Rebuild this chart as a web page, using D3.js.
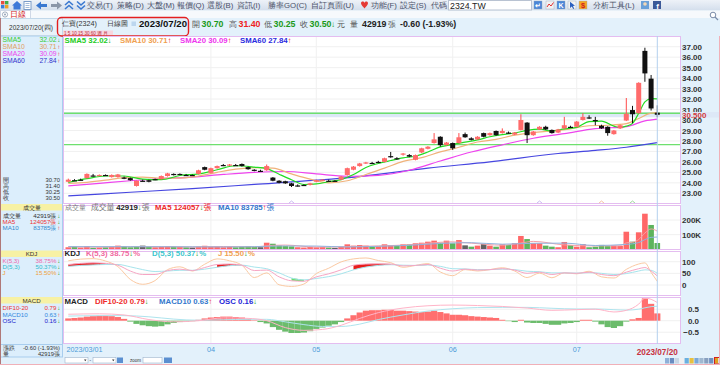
<!DOCTYPE html>
<html>
<head>
<meta charset="utf-8">
<script src="https://cdn.jsdelivr.net/npm/d3@7"></script>
<style>
  html, body { margin: 0; padding: 0; background: #fff; }
  svg { display: block; }
  text { font-family: "Liberation Sans", Arial, sans-serif; }
</style>
</head>
<body>
<svg width="720" height="365"></svg>
<script>
// ---- trading days (2023) ----
const marDays = [1,2,3,6,7,8,9,10,13,14,15,16,17,20,21,22,23,24,27,28,29,30,31];
const aprDays = [6,7,10,11,12,13,14,17,18,19,20,21,24,25,26,27,28];
const mayDays = [2,3,4,5,8,9,10,11,12,15,16,17,18,19,22,23,24,25,26,29,30,31];
const junDays = [1,2,5,6,7,8,9,12,13,14,15,16,19,20,21,26,27,28,29,30];
const julDays = [3,4,5,6,7,10,11,12,13,14,17,18,19,20];

const monthTicks  = ['2023/03/01', '2023/04/06', '2023/05/02', '2023/06/01', '2023/07/03'];
const monthLabels = ['2023/03/01', '04', '05', '06', '07'];

// ---- price: [open, high, low, close] ----
const candles = [
  [24.10,24.40,24.05,24.30],[24.25,24.35,24.20,24.25],[24.30,24.40,24.25,24.30],[24.45,24.90,24.40,24.85],
  [24.70,24.85,24.60,24.65],[24.70,24.80,24.65,24.75],[24.75,24.80,24.65,24.70],[24.55,24.80,24.50,24.75],
  [24.55,24.85,24.50,24.80],[24.50,24.60,24.35,24.40],[24.45,24.50,24.20,24.25],[23.70,24.20,23.65,24.20],
  [24.20,24.30,24.15,24.20],[24.25,24.30,24.05,24.10],[24.35,24.40,24.25,24.35],[24.35,24.70,24.30,24.65],
  [24.65,24.95,24.60,24.90],[24.85,24.90,24.70,24.75],[24.85,24.90,24.75,24.80],[24.75,24.85,24.70,24.75],
  [24.75,24.80,24.70,24.75],[24.85,25.25,24.80,25.20],[25.50,25.55,25.20,25.25],[24.95,25.45,24.90,25.40],
  [25.40,25.65,25.35,25.60],[25.70,25.80,25.60,25.70],[25.65,25.80,25.60,25.75],[25.70,25.80,25.65,25.70],
  [25.80,25.85,25.55,25.60],[25.50,25.55,25.25,25.30],[25.25,25.30,25.10,25.15],[25.15,25.25,25.10,25.15],
  [25.20,25.75,25.15,25.60],[24.50,24.55,24.15,24.20],[24.20,24.25,23.95,24.00],[24.15,24.20,23.90,23.95],
  [23.95,24.00,23.60,23.70],[23.75,23.85,23.65,23.75],[23.80,23.85,23.70,23.80],[23.80,24.00,23.75,23.95],
  [24.10,24.30,24.05,24.25],[24.25,24.35,24.20,24.30],[24.20,24.30,24.15,24.20],[24.20,24.25,24.15,24.20],
  [24.30,24.65,24.25,24.60],[24.75,25.45,24.70,25.40],[25.25,25.60,25.20,25.55],[25.60,25.90,25.55,25.85],
  [25.85,26.00,25.80,25.95],[25.90,26.00,25.80,25.90],[26.00,26.10,25.90,26.00],[26.00,26.40,25.95,26.35],
  [26.55,26.95,26.40,26.45],[26.35,26.45,26.20,26.30],[26.70,26.85,26.60,26.80],[26.65,26.75,26.45,26.50],
  [26.20,26.70,26.15,26.65],[26.90,27.35,26.85,27.30],[27.25,27.50,27.20,27.45],[27.80,28.75,27.75,28.15],
  [28.40,28.45,27.45,27.60],[27.60,27.90,27.55,27.85],[27.80,27.85,27.15,27.30],[27.80,28.75,27.75,28.35],
  [28.65,28.80,28.30,28.35],[28.25,28.35,28.05,28.10],[28.15,28.45,28.10,28.40],[28.75,28.80,28.35,28.40],
  [28.55,28.80,28.50,28.75],[28.95,29.00,28.50,28.55],[28.75,29.20,28.70,28.95],[28.80,28.90,28.70,28.75],
  [28.60,28.85,28.55,28.80],[29.05,30.55,29.00,30.00],[29.75,29.80,27.80,28.55],[28.55,28.95,28.50,28.90],
  [29.10,29.40,29.05,29.35],[29.35,29.45,29.05,29.10],[29.05,29.10,28.70,28.75],[28.80,29.15,28.75,29.10],
  [29.20,30.30,29.15,29.50],[29.35,29.45,29.25,29.30],[29.35,29.90,29.30,29.85],[30.00,30.65,29.95,30.30],
  [30.25,30.45,30.10,30.15],[30.00,30.30,29.50,29.95],[29.45,29.55,29.15,29.20],[29.35,29.40,28.50,28.75],
  [28.65,29.05,28.60,29.00],[29.20,29.55,29.15,29.50],[29.95,32.10,29.90,30.60],[30.95,31.35,29.70,30.55],
  [30.65,33.60,30.60,33.55],[36.60,36.90,33.65,34.45],[33.95,34.30,30.90,31.10],[30.70,31.40,30.25,30.50]
];

// ---- volume (張) ----
const volumes = [
  14000,18000,12000,22000,10000,12000,14000,16000,25000,22000,14000,18000,25000,16000,14000,16000,
  22000,18000,16000,14000,12000,18000,24000,18000,20000,14000,16000,14000,18000,22000,16000,14000,
  45000,38000,26000,22000,20000,14000,12000,16000,14000,16000,12000,10000,16000,34000,25000,29000,
  25000,18000,20000,34000,29000,25000,34000,34000,41000,45000,52000,59000,45000,59000,41000,63000,
  27000,18000,25000,36000,25000,18000,34000,29000,41000,91000,70000,41000,41000,25000,18000,14000,
  50000,29000,18000,36000,14000,18000,30000,22000,25000,23000,120000,52000,116000,243000,166000,42919
];

// ---- moving averages, read as [day index, value] ----
const sma5Pts = [[0,24.05],[3,24.4],[6,24.65],[9,24.65],[12,24.35],[15,24.3],[18,24.7],[21,24.85],[24,25.25],
  [27,25.63],[30,25.5],[32,25.36],[34,24.82],[36,24.3],[38,23.84],[40,23.9],[42,24.1],[44,24.31],[46,24.79],
  [48,25.47],[50,25.85],[52,26.13],[54,26.38],[56,26.54],[58,26.94],[60,27.43],[62,27.67],[64,27.89],[66,28.1],
  [68,28.4],[70,28.61],[72,28.76],[74,29.01],[76,29.12],[78,28.95],[80,29.16],[82,29.3],[84,29.85],[86,29.9],
  [88,29.41],[89,29.28],[90,29.41],[91,29.68],[92,30.64],[93,31.73],[94,32.05],[95,32.02]];
const sma10Pts = [[0,23.95],[3,24.05],[6,24.25],[9,24.5],[12,24.55],[15,24.45],[18,24.45],[21,24.65],[24,25.0],
  [27,25.3],[30,25.45],[33,25.4],[36,24.85],[39,24.35],[42,24.0],[45,24.2],[48,24.8],[51,25.4],[54,26.05],
  [57,26.4],[60,26.95],[63,27.4],[66,27.9],[69,28.15],[72,28.55],[75,28.8],[78,28.95],[81,29.15],[84,29.45],
  [87,29.5],[90,29.65],[92,30.15],[94,30.65],[95,30.71]];
const sma20Pts = [[0,23.7],[5,23.95],[10,24.2],[15,24.4],[20,24.55],[25,24.8],[30,25.0],[35,25.08],[40,24.85],
  [45,24.63],[50,24.72],[55,25.2],[60,26.08],[65,26.94],[70,27.63],[75,28.26],[80,28.69],[85,29.17],[90,29.37],
  [93,29.92],[95,30.09]];
const sma60Pts = [[0,22.75],[10,23.1],[20,23.45],[30,23.85],[40,24.25],[47,24.6],[58,25.4],[68,26.0],[79,26.8],
  [85,27.1],[90,27.4],[95,27.84]];
const guideLevels = [30.65, 27.65];
const lastClose = 30.5;

const volMa5Pts = [[0,18000],[5,15000],[10,18000],[15,18000],[20,16000],[25,19000],[30,17000],[33,27000],[35,29000],
  [40,15000],[45,18000],[50,23000],[55,31000],[60,48000],[62,51000],[65,42000],[70,28000],[73,43000],[75,54000],
  [80,30000],[85,23000],[89,24000],[90,44000],[91,48000],[92,67000],[93,111000],[94,139000],[95,124057]];
const volMa10Pts = [[0,18000],[10,18000],[20,17000],[25,16000],[30,18000],[35,23000],[40,22000],[45,16000],
  [50,20500],[55,27000],[60,40000],[65,45000],[70,35000],[75,41000],[80,42000],[85,26000],[90,33500],[92,46000],
  [93,66000],[94,81500],[95,83785]];

// ---- KDJ (5,3) ----
const kdjIdx = [0,2,4,6,8,10,12,14,16,18,20,22,24,26,28,30,32,34,36,38,40,42,44,46,48,50,52,54,56,58,
  60,62,64,66,68,70,72,74,76,78,80,82,84,86,88,90,92,93,94,95];
const kVals = [88,93,95,93,85,60,45,45,62,68, 62,75,88,90,85,62,64,35,18,16, 35,48,65,85,90,91,90,82,84,88,
  72,60,68,64,66,70,64,50,55,45, 52,50,55,45,40,55,70, 75,60,38.75];
const dVals = [80,84,86,88,88,78,66,58,60,63, 63,68,76,83,85,77,70,52,30,22, 28,36,48,65,77,84,87,85,84,86,
  80,70,69,66,66,68,66,59,57,52, 52,51,53,50,45,49,60, 65,63,50.37];
const jVals = [104,111,113,103,79,24,3,19,66,78, 60,89,112,104,85,32,52,1,-6,4, 49,72,99,112,116,105,96,76,84,92,
  56,40,66,60,66,74,60,32,51,31, 52,48,59,35,30,67,90, 95,54,15.5];

// ---- MACD ----
const difPts = [[0,0.28],[5,0.30],[9,0.25],[13,0.05],[17,-0.05],[21,0.0],[25,0.12],[29,0.1],[32,0.0],[35,-0.3],
  [38,-0.42],[41,-0.38],[44,-0.2],[47,0.1],[50,0.35],[54,0.55],[58,0.65],[62,0.68],[66,0.66],[70,0.62],[74,0.55],
  [78,0.45],[82,0.48],[85,0.5],[88,0.38],[90,0.45],[92,0.72],[93,0.98],[94,0.93],[95,0.79]];
const macdPts = [[0,0.2],[5,0.22],[9,0.22],[13,0.17],[17,0.07],[21,0.02],[25,0.04],[29,0.06],[32,0.06],[35,-0.05],
  [38,-0.17],[41,-0.25],[44,-0.25],[47,-0.15],[50,0.05],[54,0.25],[58,0.42],[62,0.52],[66,0.57],[70,0.58],[74,0.58],
  [78,0.54],[82,0.51],[85,0.51],[88,0.48],[90,0.46],[92,0.5],[93,0.56],[94,0.61],[95,0.63]];
const oscVals = [
  0.05,0.06,0.07,0.09,0.10,0.11,0.11,0.10,0.08,0.04,
  -0.02,-0.07,-0.10,-0.12,-0.13,-0.12,-0.08,-0.05,-0.03,-0.02,
  -0.01,0.02,0.05,0.07,0.08,0.09,0.09,0.08,0.07,0.04,
  0.01,-0.03,-0.06,-0.14,-0.20,-0.24,-0.27,-0.27,-0.26,-0.23,
  -0.18,-0.15,-0.11,-0.08,-0.03,0.05,0.12,0.18,0.22,0.23,
  0.23,0.24,0.24,0.22,0.22,0.21,0.20,0.19,0.20,0.22,
  0.19,0.16,0.13,0.13,0.12,0.10,0.09,0.08,0.07,0.06,
  0.02,-0.01,-0.03,0.02,-0.04,-0.05,-0.05,-0.07,-0.09,-0.09,
  -0.06,-0.05,-0.03,0.02,0.02,-0.02,-0.08,-0.14,-0.16,-0.12,
  -0.02,0.03,0.06,0.49,0.37,0.16
];

const markerDays = [[36,'#c8b8f0'],[76,'#c8b8f0'],[86,'#f4c0a0'],[91,'#9ad89a']];

// ---- layout ----
const PL = 63, PR = 681;
const PANELS = [[36, 204], [205, 250], [251, 296], [297, 344]];
const CJK = '"Noto Sans CJK TC", "Noto Sans CJK SC", sans-serif';
const SERIF = '"Liberation Serif", "Noto Sans CJK TC", serif';
const UP = '#ee2222', DOWN = '#1a9a1a';

const pad = n => (n < 10 ? '0' : '') + n;
const dates = [['03', marDays], ['04', aprDays], ['05', mayDays], ['06', junDays], ['07', julDays]]
  .flatMap(([m, days]) => days.map(d => `2023/${m}/${pad(d)}`));

const svg = d3.select('svg');

const x = d3.scaleBand().domain(dates).range([65.2, 660.4]);
const cx = i => x(dates[i]) + x.bandwidth() / 2;
const yP = d3.scaleLinear().domain([23, 37]).range([193.3, 46.7]);
const yV = d3.scaleLinear().domain([0, 200000]).range([249.3, 220]);
const yK = d3.scaleLinear().domain([0, 100]).range([285, 261.7]);
const yM = d3.scaleLinear().domain([-0.5, 0.5]).range([332.2, 309.2]);
const yO = d3.scaleLinear().domain([0, 0.5]).range([320.7, 297.9]); // histogram drawn at double scale

// ---- backgrounds ----
const defs = svg.append('defs');
const grad = defs.append('linearGradient').attr('id', 'tb').attr('x1', 0).attr('y1', 0).attr('x2', 0).attr('y2', 1);
grad.append('stop').attr('offset', 0).attr('stop-color', '#eef2f8');
grad.append('stop').attr('offset', 1).attr('stop-color', '#d3deec');

svg.append('rect').attr('width', 720).attr('height', 365).attr('fill', '#e3f1fb');
svg.append('rect').attr('width', 720).attr('height', 10.5).attr('fill', 'url(#tb)');
svg.append('rect').attr('y', 10.5).attr('width', 720).attr('height', 7.5).attr('fill', '#f6f9fc');
svg.append('rect').attr('x', PL).attr('y', 36).attr('width', PR - PL).attr('height', 308).attr('fill', '#fff');
svg.append('rect').attr('x', 0.5).attr('y', 36).attr('width', 62).attr('height', 321).attr('fill', '#dcEEFC')
  .attr('stroke', '#a8cdee');

function txt(x0, y0, s, o = {}) {
  return svg.append('text').attr('x', x0).attr('y', y0).text(s)
    .attr('font-size', o.size || 8).attr('fill', o.fill || '#333')
    .attr('font-family', o.font || null).attr('font-weight', o.bold ? 'bold' : null)
    .attr('text-anchor', o.anchor || null);
}

function rich(x0, y0, parts, size) {
  const t = svg.append('text').attr('x', x0).attr('y', y0).attr('font-size', size).attr('font-weight', 'bold');
  parts.forEach(p => {
    const s = t.append('tspan').attr('fill', p[1]).text(p[0]);
    if (p[2] === 'cjk') s.attr('font-family', CJK).attr('font-weight', 'normal');
  });
  return t;
}

// ---- toolbar ----
[['#e84c3d', 1, 1], ['#3fae49', 5, 1], ['#3b7dd8', 1, 5], ['#f0a020', 5, 5]].forEach(([c, a, b]) =>
  svg.append('rect').attr('x', a).attr('y', b).attr('width', 3.4).attr('height', 3.4).attr('fill', c));
svg.append('path').attr('d', 'M12,5.5 L17,1 L22,5.5 L20.5,5.5 L20.5,9.5 L13.5,9.5 L13.5,5.5 Z').attr('fill', '#3c78d8');
svg.append('rect').attr('x', 24).attr('y', 1.5).attr('width', 7).attr('height', 8).attr('fill', '#fff').attr('stroke', '#7a9cc8');
[3.5, 5.5, 7.5].forEach(v => svg.append('line').attr('x1', 25.5).attr('x2', 29.5).attr('y1', v).attr('y2', v).attr('stroke', '#7a9cc8').attr('stroke-width', 0.7));
svg.append('path').attr('d', 'M36,5.5 L41,1.5 L41,4 L47,4 L47,7 L41,7 L41,9.5 Z').attr('fill', '#3a78d0');
svg.append('path').attr('d', 'M62,5.5 L57,1.5 L57,4 L51,4 L51,7 L57,7 L57,9.5 Z').attr('fill', '#8a96a8');
svg.append('path').attr('d', 'M65,5 L69,1.5 L73,5 M65,9 L69,5.5 L73,9').attr('fill', 'none').attr('stroke', '#3a78d0').attr('stroke-width', 1.6);
svg.append('path').attr('d', 'M77,1.5 L81,5 L85,1.5 M77,5.5 L81,9 L85,5.5').attr('fill', 'none').attr('stroke', '#3a78d0').attr('stroke-width', 1.6);

const menus = [['交易(T)', 87], ['策略(D)', 117], ['大盤(M)', 147], ['報價(Q)', 177], ['選股(B)', 207],
  ['資訊(I)', 237], ['勝率GO(C)', 268], ['自訂頁面(U)', 311], ['功能(F)', 371], ['設定(S)', 400], ['代碼', 431]];
menus.forEach(([s, px]) => txt(px, 8.4, s, {size: 7.8, fill: '#4a5068', font: CJK}));
svg.append('path').attr('d', 'M361,3.2 C361,1 364,1 364.5,3 C365,1 368,1 368,3.2 C368,5.5 365,7 364.5,8.5 C364,7 361,5.5 361,3.2 Z').attr('fill', '#e53935');
svg.append('rect').attr('x', 448.5).attr('y', 0.5).attr('width', 83).attr('height', 9.5).attr('fill', '#fff').attr('stroke', '#b9c3d2');
txt(450, 8.6, '2324.TW', {size: 8.8, fill: '#222'});
[[534, '#4a86d8'], [546, '#f2f2f2'], [557, '#4a86d8'], [568, '#f2f2f2'], [579, '#f5a623']].forEach(([px, c]) =>
  svg.append('rect').attr('x', px).attr('y', 1).attr('width', 8).attr('height', 8).attr('fill', c).attr('stroke', '#9ab').attr('stroke-width', 0.4));
txt(538, 8, '↵', {size: 7, fill: '#fff', anchor: 'middle', bold: true});
svg.append('path').attr('d', 'M547,7 L549,4 L551,6 L553.5,2.5').attr('fill', 'none').attr('stroke', '#e03030').attr('stroke-width', 1);
txt(561, 8, 'K', {size: 7, fill: '#fff', anchor: 'middle', bold: true});
svg.append('path').attr('d', 'M570,1.8 L570,8 L571.8,6.4 L573.2,9 L574.2,8.5 L572.9,6 L575,5.8 Z').attr('fill', '#2a60c0');
txt(583, 8, '$', {size: 7.5, fill: '#d02020', anchor: 'middle', bold: true});
txt(593, 8.4, '分析工具(L)', {size: 7.8, fill: '#4a5068', font: CJK});
svg.append('rect').attr('x', 641).attr('y', 1).attr('width', 8).attr('height', 8).attr('fill', '#6aa0d8');
svg.append('circle').attr('cx', 645).attr('cy', 4).attr('r', 1.8).attr('fill', '#f3d7b5');
svg.append('rect').attr('x', 653).attr('y', 1).attr('width', 8).attr('height', 8).attr('fill', '#3b5998');
txt(657.5, 8.5, 'f', {size: 8, fill: '#fff', anchor: 'middle', bold: true});

// tab row
svg.append('rect').attr('x', 0.5).attr('y', 10.5).attr('width', 30).attr('height', 8).attr('fill', '#fff').attr('stroke', '#cfd8e6');
svg.append('circle').attr('cx', 5).attr('cy', 14.5).attr('r', 2.6).attr('fill', 'none').attr('stroke', '#8a9ab0').attr('stroke-width', 0.8);
svg.append('circle').attr('cx', 5).attr('cy', 14.5).attr('r', 0.9).attr('fill', '#8a9ab0');
txt(10, 17.3, '日線', {size: 8, fill: '#d02020', font: CJK});
svg.append('circle').attr('cx', 713).attr('cy', 15).attr('r', 2.8).attr('fill', '#fff').attr('stroke', '#7a8ca8');
svg.append('line').attr('x1', 715).attr('y1', 17).attr('x2', 718).attr('y2', 20).attr('stroke', '#7a8ca8').attr('stroke-width', 1.2);

// info row
svg.append('rect').attr('x', 0.5).attr('y', 18.5).attr('width', 62).attr('height', 17).attr('fill', '#e9f3fa').attr('stroke', '#c2d8ea');
txt(31, 30, '2023/07/20(四)', {size: 6.5, fill: '#333', font: SERIF, anchor: 'middle'});
svg.append('rect').attr('x', 57.5).attr('y', 17.5).attr('width', 131).attr('height', 18.5).attr('rx', 4)
  .attr('fill', 'none').attr('stroke', '#e42020').attr('stroke-width', 1.4);
txt(62, 26, '仁寶(2324)', {size: 7.2, fill: '#333', font: CJK});
txt(107, 26, '日線圖', {size: 7.2, fill: '#333', font: CJK});
svg.append('rect').attr('x', 131.5).attr('y', 21.5).attr('width', 4.5).attr('height', 4.5).attr('fill', '#bcd6ee');
txt(139, 27, '2023/07/20', {size: 9.6, fill: '#111', bold: true});
svg.append('rect').attr('x', 63).attr('y', 30.5).attr('width', 50).attr('height', 4.5).attr('fill', '#f7d6df');
txt(64, 34.6, '1 5 10 15 30 60 週 月', {size: 4.6, fill: '#c03040', font: CJK});

const quote = [['開', '30.70', DOWN, 192], ['高', '31.40', UP, 229], ['低', '30.25', DOWN, 264], ['收', '30.50', DOWN, 300]];
quote.forEach(([lab, v, c, px]) => {
  txt(px, 27, lab, {size: 7.5, fill: '#555', font: CJK});
  txt(px + 9.5, 27, v, {size: 8.8, fill: c, bold: true});
});
txt(331, 27, '↓', {size: 8, fill: DOWN, bold: true});
txt(337, 27, '元', {size: 7.5, fill: '#555', font: CJK});
txt(350, 27, '量', {size: 7.5, fill: '#555', font: CJK});
txt(362, 27, '42919', {size: 8.8, fill: '#222', bold: true});
txt(388, 27, '張', {size: 7.5, fill: '#555', font: CJK});
txt(400, 27, '-0.60 (-1.93%)', {size: 8.8, fill: '#222', bold: true});

// ---- grid ----
const grid = svg.append('g').attr('stroke', '#f0f0f0').attr('stroke-width', 1);
d3.range(23, 38).forEach(v => grid.append('line').attr('x1', PL).attr('x2', PR).attr('y1', yP(v)).attr('y2', yP(v)));
[100000, 200000].forEach(v => grid.append('line').attr('x1', PL).attr('x2', PR).attr('y1', yV(v)).attr('y2', yV(v)));
[0, 50, 100].forEach(v => grid.append('line').attr('x1', PL).attr('x2', PR).attr('y1', yK(v)).attr('y2', yK(v)));
[-0.5, 0, 0.5].forEach(v => grid.append('line').attr('x1', PL).attr('x2', PR).attr('y1', yM(v)).attr('y2', yM(v)));
monthTicks.slice(1).forEach(d => PANELS.forEach(([t, b]) =>
  grid.append('line').attr('x1', x(d) + x.bandwidth() / 2).attr('x2', x(d) + x.bandwidth() / 2).attr('y1', t).attr('y2', b)));

// close band + guide lines
svg.append('rect').attr('x', PL).attr('y', yP(lastClose) - 2.5).attr('width', PR - PL).attr('height', 5).attr('fill', '#dde8f7');
guideLevels.forEach(v => svg.append('line').attr('x1', PL).attr('x2', PR).attr('y1', yP(v)).attr('y2', yP(v))
  .attr('stroke', '#6ee06e').attr('stroke-width', 1.4));

// ---- moving-average lines ----
const ptLine = (ys) => d3.line().x(p => cx(p[0])).y(p => ys(p[1])).curve(d3.curveMonotoneX);
[[sma60Pts, '#4646e0'], [sma20Pts, '#ee44ee'], [sma10Pts, '#f0b27a'], [sma5Pts, '#22dd22']].forEach(([pts, c]) =>
  svg.append('path').attr('d', ptLine(yP)(pts)).attr('fill', 'none').attr('stroke', c).attr('stroke-width', 1.2));

// ---- candles ----
const gC = svg.append('g');
gC.selectAll('line').data(candles).join('line')
  .attr('x1', (d, i) => cx(i)).attr('x2', (d, i) => cx(i))
  .attr('y1', d => yP(d[1])).attr('y2', d => yP(d[2]))
  .attr('stroke', d => d[3] > d[0] ? '#ff4a4a' : '#111').attr('stroke-width', 1);
gC.selectAll('rect').data(candles).join('rect')
  .attr('x', (d, i) => cx(i) - 2.5).attr('width', 5)
  .attr('y', d => yP(Math.max(d[0], d[3])))
  .attr('height', d => Math.max(1.2, yP(Math.min(d[0], d[3])) - yP(Math.max(d[0], d[3]))))
  .attr('fill', d => d[3] > d[0] ? '#ff6b6b' : '#111');

// small signal marks at the bottom of the price panel
markerDays.forEach(([i, c]) => svg.append('path')
  .attr('d', `M${cx(i) - 3},203.5 L${cx(i)},201 L${cx(i) + 3},203.5`).attr('fill', 'none').attr('stroke', c).attr('stroke-width', 1));

// ---- volume ----
const volColor = i => {
  const prev = i ? candles[i - 1][3] : candles[0][0];
  const c = candles[i][3];
  return c > prev ? '#ff5a5a' : c < prev ? '#4fae4f' : '#555';
};
svg.append('g').selectAll('rect').data(volumes).join('rect')
  .attr('x', (d, i) => cx(i) - 2.8).attr('width', 5.6)
  .attr('y', d => yV(d)).attr('height', d => yV(0) - yV(d))
  .attr('fill', (d, i) => volColor(i)).attr('fill-opacity', 0.92);
[[volMa5Pts, '#f7a0a8'], [volMa10Pts, '#8fb3de']].forEach(([pts, c]) =>
  svg.append('path').attr('d', ptLine(yV)(pts)).attr('fill', 'none').attr('stroke', c).attr('stroke-width', 1));

// ---- KDJ ----
const kdjRows = kdjIdx.map((i, n) => ({i, k: kVals[n], d: dVals[n], j: jVals[n]}));
const kdjArea = test => d3.area().defined(test).x(r => cx(r.i)).y0(r => yK(r.d)).y1(r => yK(r.k)).curve(d3.curveMonotoneX);
svg.append('path').attr('d', kdjArea(r => r.k >= r.d && r.k >= 80)(kdjRows)).attr('fill', '#e81c1c');
svg.append('path').attr('d', kdjArea(r => r.k <= r.d && r.k <= 20)(kdjRows)).attr('fill', '#6ede6e');
[['j', '#fbc9a2'], ['d', '#a6e4ec'], ['k', '#f6a6c4']].forEach(([key, c]) =>
  svg.append('path').attr('d', d3.line().x(r => cx(r.i)).y(r => yK(r[key])).curve(d3.curveMonotoneX)(kdjRows))
    .attr('fill', 'none').attr('stroke', c).attr('stroke-width', 1));

// ---- MACD ----
svg.append('g').selectAll('rect').data(oscVals).join('rect')
  .attr('x', (d, i) => x(dates[i])).attr('width', x.bandwidth())
  .attr('y', d => d >= 0 ? yO(d) : yO(0)).attr('height', d => Math.abs(yO(d) - yO(0)))
  .attr('fill', d => d >= 0 ? '#ff6f6f' : '#6cbc6c');
[[macdPts, '#aee4ee'], [difPts, '#ffb4c8']].forEach(([pts, c]) =>
  svg.append('path').attr('d', ptLine(yM)(pts)).attr('fill', 'none').attr('stroke', c).attr('stroke-width', 1));

// ---- panel frames + crosshair ----
PANELS.forEach(([t, b]) => svg.append('rect').attr('x', PL + 0.5).attr('y', t + 0.5).attr('width', PR - PL - 1)
  .attr('height', b - t - 1).attr('fill', 'none').attr('stroke', '#e4bdf0'));
svg.append('line').attr('x1', cx(95)).attr('x2', cx(95)).attr('y1', 36).attr('y2', 344).attr('stroke', '#b3d0ee');

// ---- right axes ----
function rightAxis(scale, values, fmt, endX) {
  const g = svg.append('g').attr('transform', `translate(${PR},0)`)
    .call(d3.axisRight(scale).tickValues(values).tickFormat(fmt).tickSize(0).tickPadding(1));
  g.select('.domain').remove();
  g.attr('font-family', '"Liberation Sans", Arial, sans-serif').attr('font-size', 8).attr('font-weight', 'bold');
  g.selectAll('text').attr('fill', '#333');
  if (endX) g.selectAll('text').attr('text-anchor', 'end').attr('x', endX);
  return g;
}
rightAxis(yP, d3.range(23, 38), d3.format('.2f'));
rightAxis(yV, [100000, 200000], d => (d / 1000) + 'K');
rightAxis(yK, [0, 50, 100], d3.format('d'));
rightAxis(yM, [-0.5, 0, 0.5], d3.format('.1f'), 18);
svg.append('rect').attr('x', PR).attr('y', yP(lastClose) - 2.8).attr('width', 38).attr('height', 5.6).attr('fill', '#dde8f7');
txt(682, yP(lastClose) + 2.8, lastClose.toFixed(3), {size: 8, fill: '#d23c3c', bold: true});

// ---- date axis ----
const gx = svg.append('g').attr('transform', 'translate(0,345)')
  .call(d3.axisBottom(x).tickValues(monthTicks).tickFormat((d, i) => monthLabels[i]).tickSize(0).tickPadding(2));
gx.select('.domain').remove();
gx.attr('font-family', '"Liberation Sans", Arial, sans-serif').attr('font-size', 7.2);
gx.selectAll('text').attr('fill', '#4a9ad8');
gx.select('.tick text').attr('text-anchor', 'start').attr('x', -1.8);
txt(cx(95), 354.5, dates[95], {size: 8.2, fill: '#c83040', bold: true, anchor: 'middle'});

// ---- panel headers ----
rich(64.5, 42.6, [['SMA5 32.02', '#22cc22'], ['↓', DOWN]], 7.8);
rich(120, 42.6, [['SMA10 30.71', '#f0a050'], ['↑', UP]], 7.8);
rich(180, 42.6, [['SMA20 30.09', '#ee33ee'], ['↑', UP]], 7.8);
rich(240, 42.6, [['SMA60 27.84', '#2a2ae0'], ['↑', UP]], 7.8);

txt(65, 209.6, '成交量', {size: 7, fill: '#777', font: CJK});
rich(91, 209.6, [['成交量 ', '#777', 'cjk'], ['42919', '#222'], ['↓', DOWN], ['張', '#777', 'cjk']], 7.8);
rich(155, 209.6, [['MA5 124057', '#ee2a2a'], ['↓', DOWN], ['張', '#ee2a2a', 'cjk']], 7.8);
rich(218, 209.6, [['MA10 83785', '#3377cc'], ['↑', UP], ['張', '#3377cc', 'cjk']], 7.8);

rich(64.5, 256, [['KDJ', '#222']], 7.8);
rich(86, 256, [['K(5,3) 38.75', '#f06aa0'], ['↓', DOWN], ['%', '#f06aa0']], 7.8);
rich(152, 256, [['D(5,3) 50.37', '#3cc6cc'], ['↓', DOWN], ['%', '#3cc6cc']], 7.8);
rich(218, 256, [['J 15.50', '#f0a050'], ['↓', DOWN], ['%', '#f0a050']], 7.8);

rich(64.5, 303.8, [['MACD', '#222']], 7.8);
rich(95, 303.8, [['DIF10-20 0.79', '#ee2a2a'], ['↓', DOWN]], 7.8);
rich(159, 303.8, [['MACD10 0.63', '#3377cc'], ['↑', UP]], 7.8);
rich(219, 303.8, [['OSC 0.16', '#2424d8'], ['↓', DOWN]], 7.8);

// ---- left info panel ----
function leftRow(y0, label, lc, val, vc, arrow, size = 6.8) {
  txt(2.5, y0, label, {size, fill: lc, font: /[\u4e00-\u9fff]/.test(label) ? CJK : SERIF});
  txt(arrow ? 56.5 : 60, y0, val, {size, fill: vc, font: SERIF, anchor: 'end'});
  if (arrow) txt(57.3, y0, arrow === 'up' ? '↑' : '↓', {size: 6.2, fill: arrow === 'up' ? UP : DOWN, bold: true});
}
function yellowHead(t, label) {
  svg.append('rect').attr('x', 1).attr('y', t).attr('width', 61).attr('height', 6.5).attr('fill', '#f7f1a4');
  txt(31.5, t + 5.6, label, {size: 6.2, fill: '#333', font: /[\u4e00-\u9fff]/.test(label) ? CJK : SERIF, anchor: 'middle'});
}
leftRow(41.8, 'SMA5', '#33cc33', '32.02', '#33cc33', 'down');
leftRow(48.8, 'SMA10', '#e0a060', '30.71', '#e0a060', 'up');
leftRow(55.8, 'SMA20', '#ee44ee', '30.09', '#ee44ee', 'up');
leftRow(62.8, 'SMA60', '#3333cc', '27.84', '#3333cc', 'up');
[['開', '30.70', 182.3], ['高', '31.40', 188.2], ['低', '30.25', 194], ['收', '30.50', 199.8]].forEach(([l, v, y0]) =>
  leftRow(y0, l, '#333', v, '#333', null, 5.8));

yellowHead(204, '成交量');
leftRow(217.5, '成交量', '#333', '42919張', '#333', 'down', 6.2);
leftRow(223.8, 'MA5', '#ee3333', '124057張', '#ee3333', 'down', 6.2);
leftRow(230.1, 'MA10', '#3388cc', '83785張', '#3388cc', 'up', 6.2);

yellowHead(250.5, 'KDJ');
leftRow(262.8, 'K(5,3)', '#ee66aa', '38.75%', '#ee66aa', 'down', 6.2);
leftRow(269.1, 'D(5,3)', '#33bbcc', '50.37%', '#33bbcc', 'down', 6.2);
leftRow(275.4, 'J', '#f0a040', '15.50%', '#f0a040', 'down', 6.2);

yellowHead(297, 'MACD');
leftRow(310.2, 'DIF10-20', '#ee3333', '0.79', '#ee3333', 'down', 6.2);
leftRow(316.6, 'MACD10', '#3388dd', '0.63', '#3388dd', 'up', 6.2);
leftRow(323, 'OSC', '#2222cc', '0.16', '#2222cc', 'down', 6.2);

svg.append('line').attr('x1', 1).attr('x2', 62).attr('y1', 344.5).attr('y2', 344.5).attr('stroke', '#a8cdee');
leftRow(350, '漲跌', '#333', '-0.60 (-1.93%)', '#333', null, 5.8);
leftRow(356, '量', '#333', '42919張', '#333', null, 5.8);

// ---- bottom control strip ----
[[65, 23], [93, 23]].forEach(([px, w]) => {
  svg.append('rect').attr('x', px).attr('y', 357.5).attr('width', w).attr('height', 5.5).attr('fill', '#fff').attr('stroke', '#9fb4cc').attr('stroke-width', 0.6);
  svg.append('path').attr('d', `M${px + w - 4},359.5 L${px + w - 1.5},359.5 L${px + w - 2.75},361.3 Z`).attr('fill', '#333');
});
txt(89.5, 362, '-', {size: 5, fill: '#333'});
[[117, 6], [164, 8]].forEach(([px, w]) => svg.append('rect').attr('x', px).attr('y', 357.5).attr('width', w).attr('height', 5.5).attr('fill', '#5b8fd0'));
txt(130, 362.4, 'zoom', {size: 4.5, fill: '#333'});
svg.append('rect').attr('x', 143).attr('y', 357.5).attr('width', 19).attr('height', 5.5).attr('fill', '#fff').attr('stroke', '#9fb4cc').attr('stroke-width', 0.6);
['#8fb0d8', '#6a8cc0', '#c8d6e6', '#f0f0f0', '#6ab0e0', '#e8c040', '#7aa8d8', '#a0b8d0', '#88a0c0', '#7090c0', '#e0a020'].forEach((c, n) =>
  svg.append('rect').attr('x', 665 + n * 4.9).attr('y', 358).attr('width', 4.2).attr('height', 5.5).attr('fill', c));
svg.append('rect').attr('x', 714.5).attr('y', 357.5).attr('width', 5).attr('height', 6.5).attr('fill', 'none').attr('stroke', '#d02020');

// outer borders
svg.append('line').attr('x1', 0.5).attr('x2', 0.5).attr('y1', 18).attr('y2', 365).attr('stroke', '#b07878');
svg.append('line').attr('x1', 719.5).attr('x2', 719.5).attr('y1', 36).attr('y2', 365).attr('stroke', '#f0b0b8');
svg.append('line').attr('x1', 0).attr('x2', 720).attr('y1', 364.5).attr('y2', 364.5).attr('stroke', '#f0b0b8');
</script>
</body>
</html>
